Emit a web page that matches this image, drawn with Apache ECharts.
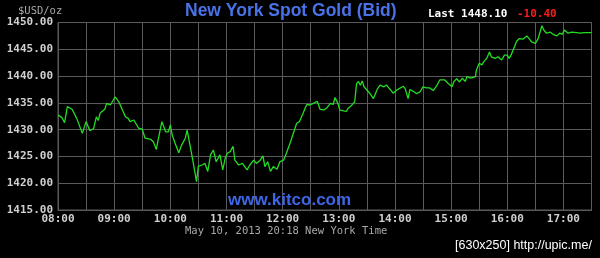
<!DOCTYPE html>
<html>
<head>
<meta charset="utf-8">
<script src="https://cdn.jsdelivr.net/npm/echarts@6/dist/echarts.min.js"></script>
<style>
html,body{margin:0;padding:0;background:#000;}
#c{width:600px;height:258px;}
</style>
</head>
<body>
<div id="c"></div>
<script>
// minutes after 08:00 (New York time)
const minutes = [0,4,7,10,11,15,20,26,30,34,38,41,43,45,50,52,56,61,65,72,75,77,81,86,90,93,99,102,105,107,111,115,118,120,122,125,129,132,136,138,141,144,148,150,154,157,160,163,166,169,173,176,179,181,184,187,189,193,197,202,205,209,212,216,219,221,224,227,230,234,237,241,244,248,252,255,258,262,264,266,269,271,273,277,280,284,287,291,294,296,299,301,305,308,310,313,315,317,319,321,323,325,327,330,333,337,341,344,348,351,355,358,362,365,369,371,374,376,380,383,387,390,394,397,401,405,408,413,417,421,423,426,429,432,435,437,441,446,447,450,453,455,458,461,463,467,470,474,477,480,482,484,487,490,493,497,501,503,506,510,513,517,519,522,526,529,533,536,539,541,545,549,554,558,562,570];
const prices = [1432.7,1432.3,1431.3,1434.3,1434.6,1433.8,1432.1,1429.3,1431.5,1429.8,1430.2,1432.4,1431.7,1433.1,1433.8,1434.9,1434.6,1436.1,1435.2,1432.4,1432.1,1431.5,1431.8,1430.3,1430.1,1428.4,1428.2,1427.7,1426.3,1428.1,1431.5,1429.6,1429.6,1430.9,1429.0,1427.5,1425.7,1427.1,1428.4,1429.9,1427.1,1424.3,1420.3,1423.2,1423.4,1423.7,1422.2,1425.3,1426.2,1424.0,1425.3,1422.5,1424.9,1425.6,1425.9,1426.9,1424.3,1423.4,1423.7,1422.5,1423.4,1424.3,1423.7,1424.3,1425.1,1423.1,1424.0,1422.2,1423.1,1422.6,1424.0,1424.3,1425.6,1427.5,1429.6,1431.2,1431.5,1433.1,1434.0,1434.7,1434.6,1434.3,1434.9,1435.3,1433.8,1433.7,1434.0,1434.9,1434.7,1436.0,1434.9,1433.7,1433.5,1433.4,1434.0,1434.4,1434.1,1435.2,1438.6,1439.0,1438.3,1439.1,1438.0,1437.4,1436.8,1435.8,1437.5,1438.3,1438.0,1438.3,1437.5,1436.8,1437.4,1437.7,1438.1,1437.6,1435.8,1437.5,1437.1,1436.7,1437.1,1438.0,1437.8,1437.8,1437.3,1438.3,1439.3,1439.3,1438.6,1438.0,1439.0,1439.5,1438.9,1439.6,1439.0,1439.9,1439.6,1439.9,1441.1,1442.4,1442.1,1442.7,1443.3,1444.5,1443.6,1443.3,1443.6,1443.0,1443.9,1443.9,1443.3,1443.9,1445.2,1446.5,1447.0,1446.9,1447.5,1447.2,1446.4,1446.1,1447.0,1449.4,1448.6,1448.0,1448.2,1447.8,1447.5,1448.0,1447.8,1448.6,1448.0,1448.2,1448.1,1448.0,1448.1,1448.1];
const hourLabels = ["08:00","09:00","10:00","11:00","12:00","13:00","14:00","15:00","16:00","17:00"];
const titleText = "New York Spot Gold (Bid)";
const lastText = "Last 1448.10";
const changeText = "-10.40";
const unitText = "$USD/oz";
const siteText = "www.kitco.com";
const dateText = "May 10, 2013 20:18 New York Time";
const stampText = "[630x250] http://upic.me/";

const chart = echarts.init(document.getElementById('c'), null, {renderer:'canvas'});
const mono = "'DejaVu Sans Mono', monospace";
const gridColor = '#5a5a5a';
chart.setOption({
  backgroundColor: '#000',
  animation: false,
  grid: {left: 58, right: 8.5, top: 22.5, bottom: 48, containLabel: false, show: true, borderColor: gridColor, borderWidth: 1},
  xAxis: {
    type: 'value', min: 0, max: 570, interval: 30,
    axisLine: {show: true, lineStyle: {color: gridColor}},
    axisTick: {show: false},
    splitLine: {show: true, lineStyle: {color: gridColor, width: 1}},
    axisLabel: {
      color: '#d0d0d0', fontFamily: mono, fontSize: 11, fontWeight: 'bold', margin: 4,
      showMinLabel: true, showMaxLabel: true,
      formatter: v => (v % 60 === 0 ? hourLabels[v / 60] || '' : '')
    }
  },
  yAxis: {
    type: 'value', min: 1415, max: 1450, interval: 5,
    axisLine: {show: true, lineStyle: {color: gridColor}},
    axisTick: {show: false},
    splitLine: {show: true, lineStyle: {color: gridColor, width: 1}},
    axisLabel: {color: '#d0d0d0', fontFamily: mono, fontSize: 11, fontWeight: 'bold', margin: 5,
      showMinLabel: true, showMaxLabel: true,
      formatter: v => v.toFixed(2)}
  },
  series: [{
    type: 'line', showSymbol: false, symbol: 'none',
    data: minutes.map((m, i) => [m, prices[i]]),
    lineStyle: {color: '#22dd22', width: 1.3},
    z: 5
  }],
  graphic: [
    {type: 'text', left: 185, top: 2, style: {text: titleText, fill: '#4a72e8', font: "bold 17.5px 'Liberation Sans', Arial, sans-serif"}},
    {type: 'text', left: 18, top: 6, style: {text: unitText, fill: '#a8a8a8', font: "10.5px " + mono}},
    {type: 'text', left: 428, top: 9, style: {text: lastText, fill: '#ffffff', font: "bold 11px " + mono}},
    {type: 'text', left: 517, top: 9, style: {text: changeText, fill: '#ff1a1a', font: "bold 11px " + mono}},
    {type: 'text', left: 228, top: 192, z: 10, style: {text: siteText, fill: '#3f66e6', font: "bold 17px 'Liberation Sans', Arial, sans-serif"}},
    {type: 'text', left: 185, top: 226, style: {text: dateText, fill: '#a8a8a8', font: "10.5px " + mono}},
    {type: 'text', left: 455, top: 239, style: {text: stampText, fill: '#ffffff', font: "12.5px 'Liberation Sans Narrow', 'Liberation Sans', sans-serif"}}
  ]
});
</script>
</body>
</html>
